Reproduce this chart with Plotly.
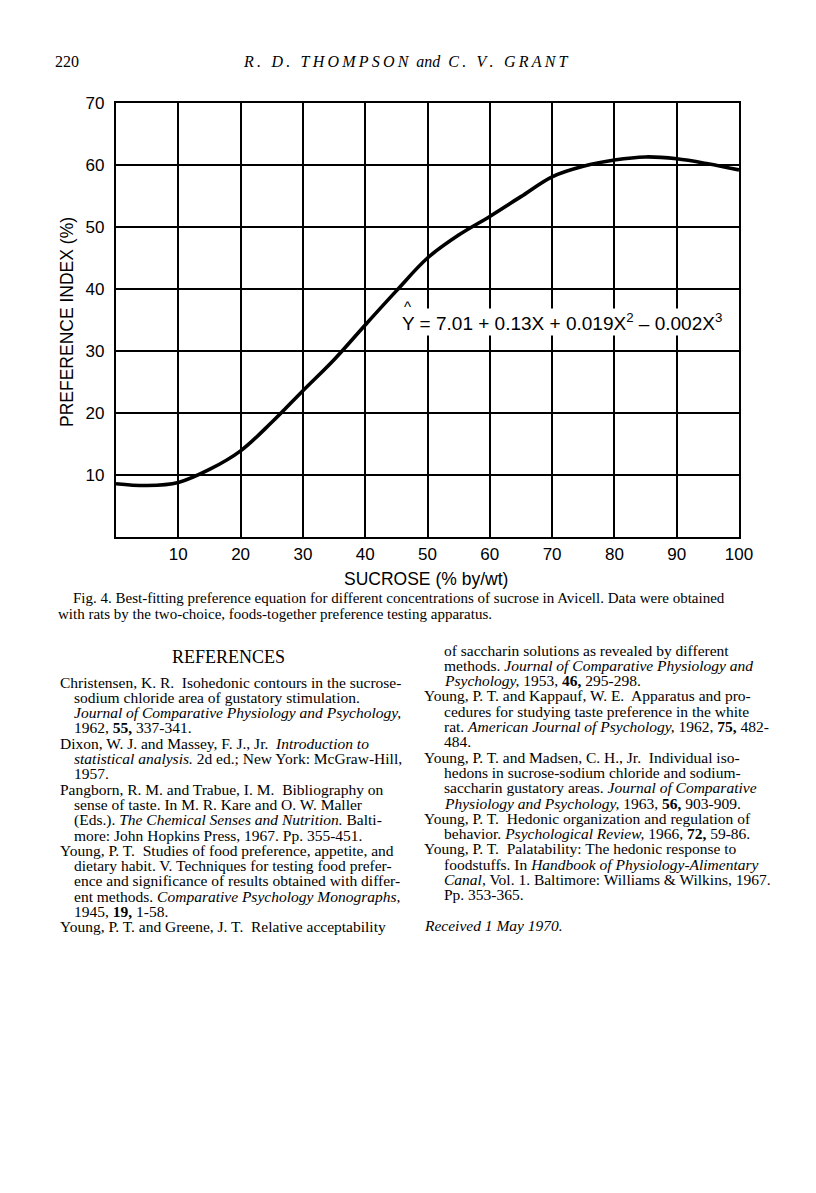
from plotly import graph_objects as plgo

# curve (sucrose % by wt -> preference index %)
sucrose = [0, 5, 10, 15, 20, 25, 30, 35, 40, 45, 50, 55, 60, 65, 70, 75, 80, 85, 90, 95, 100]
preference = [8.6, 8.3, 8.8, 10.9, 13.9, 18.5, 23.6, 28.6, 34.2, 39.7, 45.0, 48.7, 51.7,
              54.9, 58.1, 59.8, 60.8, 61.3, 61.0, 60.2, 59.2]

x_ticks = [10, 20, 30, 40, 50, 60, 70, 80, 90, 100]
y_ticks = [10, 20, 30, 40, 50, 60, 70]

equation = 'Y = 7.01 + 0.13X + 0.019X<sup>2</sup> \u2013 0.002X<sup>3</sup>'

caption = ['Fig. 4. Best-fitting preference equation for different concentrations of sucrose in Avicell. Data were obtained',
           'with rats by the two-choice, foods-together preference testing apparatus.']

# (text, is_first_line_of_entry)
refs_left = [
    ('Christensen, K. R.  Isohedonic contours in the sucrose-', True),
    ('sodium chloride area of gustatory stimulation.', False),
    ('<i>Journal of Comparative Physiology and Psychology,</i>', False),
    ('1962, <b>55,</b> 337-341.', False),
    ('Dixon, W. J. and Massey, F. J., Jr.  <i>Introduction to</i>', True),
    ('<i>statistical analysis.</i> 2d ed.; New York: McGraw-Hill,', False),
    ('1957.', False),
    ('Pangborn, R. M. and Trabue, I. M.  Bibliography on', True),
    ('sense of taste. In M. R. Kare and O. W. Maller', False),
    ('(Eds.). <i>The Chemical Senses and Nutrition.</i> Balti-', False),
    ('more: John Hopkins Press, 1967. Pp. 355-451.', False),
    ('Young, P. T.  Studies of food preference, appetite, and', True),
    ('dietary habit. V. Techniques for testing food prefer-', False),
    ('ence and significance of results obtained with differ-', False),
    ('ent methods. <i>Comparative Psychology Monographs,</i>', False),
    ('1945, <b>19,</b> 1-58.', False),
    ('Young, P. T. and Greene, J. T.  Relative acceptability', True),
]
refs_right = [
    ('of saccharin solutions as revealed by different', False),
    ('methods. <i>Journal of Comparative Physiology and</i>', False),
    ('<i>Psychology,</i> 1953, <b>46,</b> 295-298.', False),
    ('Young, P. T. and Kappauf, W. E.  Apparatus and pro-', True),
    ('cedures for studying taste preference in the white', False),
    ('rat. <i>American Journal of Psychology,</i> 1962, <b>75,</b> 482-', False),
    ('484.', False),
    ('Young, P. T. and Madsen, C. H., Jr.  Individual iso-', True),
    ('hedons in sucrose-sodium chloride and sodium-', False),
    ('saccharin gustatory areas. <i>Journal of Comparative</i>', False),
    ('<i>Physiology and Psychology,</i> 1963, <b>56,</b> 903-909.', False),
    ('Young, P. T.  Hedonic organization and regulation of', True),
    ('behavior. <i>Psychological Review,</i> 1966, <b>72,</b> 59-86.', False),
    ('Young, P. T.  Palatability: The hedonic response to', True),
    ('foodstuffs. In <i>Handbook of Physiology-Alimentary</i>', False),
    ('<i>Canal,</i> Vol. 1. Baltimore: Williams & Wilkins, 1967.', False),
    ('Pp. 353-365.', False),
]

W, H = 816, 1193
L, R, T, B = 116, 739, 103, 537   # plot box in page pixels
PAGE_PAD = 8                      # default body margin of the html page
SANS = 'Liberation Sans, Arial, sans-serif'
SERIF = 'Liberation Serif, Times New Roman, serif'


def px(x):
    return (x - L) / (R - L)


def py(y):
    return (B - y) / (B - T)


def note(text, x, y, size, font=SERIF, xanchor='left', **kw):
    fig.add_annotation(text=text, x=px(x), y=py(y), xref='paper', yref='paper', showarrow=False,
                       xanchor=xanchor, yanchor='middle', font=dict(family=font, size=size, color='black'), **kw)


fig = plgo.Figure()
fig.add_trace(plgo.Scatter(x=sucrose, y=preference, mode='lines',
                           line=dict(color='black', width=3.6, shape='spline', smoothing=1.0),
                           showlegend=False, hoverinfo='skip'))

axis_style = dict(showgrid=True, gridcolor='black', gridwidth=1.6, showline=True, linecolor='black',
                  linewidth=2.2, mirror=True, zeroline=False, ticks='',
                  tickfont=dict(family=SANS, size=17, color='black'))
fig.update_xaxes(range=[0, 100], tickvals=x_ticks, ticklabelstandoff=0, **axis_style)
fig.update_yaxes(range=[0, 70], tickvals=y_ticks, ticklabelstandoff=6, **axis_style)

fig.update_layout(width=W, height=H,
                  margin=dict(l=L - PAGE_PAD, r=W - R + PAGE_PAD, t=T - PAGE_PAD, b=H - B + PAGE_PAD),
                  paper_bgcolor='white', plot_bgcolor='white')

# axis titles
note('PREFERENCE INDEX (%)', 67, 322, 17.5, font=SANS, xanchor='center', textangle=-90)
note('SUCROSE (% by/wt)', 426, 579, 17.5, font=SANS, xanchor='center')

# fitted equation, the box hides the grid behind it like the original
note(equation, 400, 322, 19, font=SANS, bgcolor='white', borderpad=1)
note('^', 407, 306, 15, font=SANS, xanchor='center')

# page header
header = '\u2009'.join('R. D. THOMPSON') + '\u00a0 and \u00a0' + '\u2009'.join('C. V. GRANT')
note('220', 53, 61, 16)
note('<i>' + header + '</i>', 406, 61, 16, xanchor='center')

# caption
note(caption[0], 71, 598, 15)
note(caption[1], 56, 614, 15)

# references
note('REFERENCES', 228, 657, 18, xanchor='center')
for i, (line, first) in enumerate(refs_left):
    note(line, 58 if first else 72, 682 + i * 15.3, 15.5)
for i, (line, first) in enumerate(refs_right):
    note(line, 422 if first else 442, 650 + i * 15.3, 15.5)
note('<i>Received 1 May 1970.</i>', 422, 926, 15.5)

fig.write_html('out.html')
